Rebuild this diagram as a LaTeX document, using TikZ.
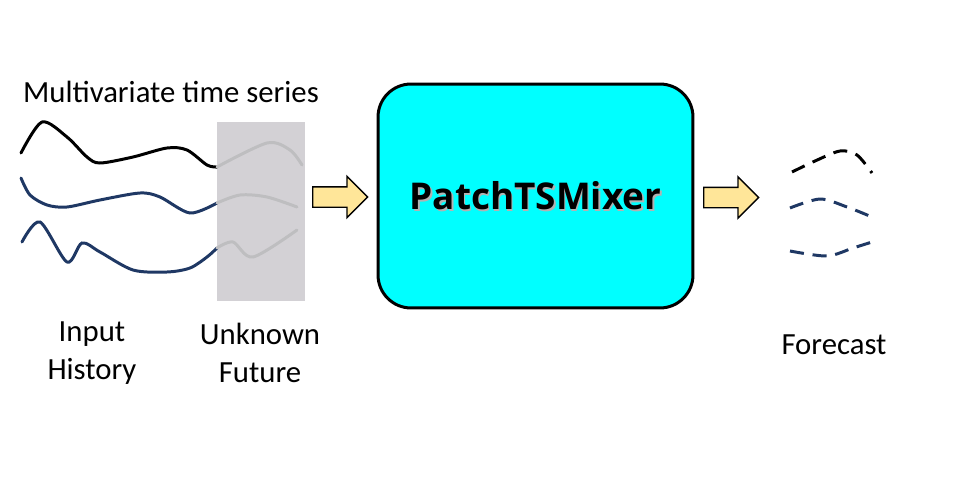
\documentclass[tikz,border=0pt]{standalone}
\usepackage{fontspec}
\setmainfont{Carlito}
\newfontfamily\mixerfont{Open Sans}
\usetikzlibrary{shapes.arrows}
\definecolor{seriesnavy}{RGB}{31,56,100}
\definecolor{futuregray}{RGB}{211,209,213}
\definecolor{ghostgray}{RGB}{190,190,192}
\definecolor{arrowyellow}{RGB}{255,230,153}
\definecolor{mixercyan}{RGB}{0,255,255}

\begin{document}
\begin{tikzpicture}[x=0.02cm, y=-0.02cm,
  series/.style={line width=1.7pt, line cap=round},
  ghost/.style={series, ghostgray},
  fcast/.style={line width=1.7pt, dash pattern=on 8pt off 5pt},
  blockarrow/.style={single arrow, draw=black, line width=0.8pt, fill=arrowyellow,
    minimum height=1.1cm, inner xsep=0pt, inner ysep=0.19cm,
    single arrow head extend=0.21cm, anchor=tail},
  mixertext/.style={font=\mixerfont\bfseries\fontsize{21}{25}\selectfont},
  seriestext/.style={font=\fontsize{17.5}{21.5}\selectfont, align=center}]

  \useasboundingbox (0,0) rectangle (960,480);

  % Unknown future window
  \fill[futuregray] (217,122) rectangle (305,301);

  % Input history
  \draw[series, black] plot[smooth] coordinates {(21,153) (42,122) (67,137) (87,157) (100,163) (133,157) (167,148) (187,150) (207,165) (217,167)};
  \draw[series, seriesnavy] plot[smooth] coordinates {(21,178) (30,195) (47,205) (67,207) (100,200) (140,193) (160,197) (190,213) (217,203)};
  \draw[series, seriesnavy] plot[smooth] coordinates {(22,242) (40,222) (67,262) (82,243) (100,252) (133,270) (167,272) (190,268) (207,257) (217,248)};

  % Unknown future
  \draw[ghost] plot[smooth] coordinates {(217,167) (267,143) (290,150) (302,165)};
  \draw[ghost] plot[smooth] coordinates {(217,203) (240,195) (267,197) (297,207)};
  \draw[ghost] plot[smooth] coordinates {(217,248) (233,242) (253,257) (297,230)};

  % Model
  \node[draw=black, line width=1.7pt, fill=mixercyan, rounded corners=0.66cm,
    minimum width=6.3cm, minimum height=4.48cm] (mixer) at (535.5,196) {};
  \node[mixertext, text=black!30] (mixershadow) at ([shift={(1.5,2)}]mixer.center) {PatchTSMixer};
  \node[mixertext] (mixerlabel) at (mixer.center) {PatchTSMixer};

  % Block arrows
  \node[blockarrow] (arrowin) at (312,197) {};
  \node[blockarrow] (arrowout) at (703,197.5) {};

  % Forecast
  \draw[fcast, black] plot[smooth] coordinates {(792,172) (815,161) (840,151) (857,155) (872,173)};
  \draw[fcast, seriesnavy] plot[smooth] coordinates {(790,208) (820,199) (847,207) (872,217)};
  \draw[fcast, seriesnavy] plot[smooth] coordinates {(790,251) (827,256) (853,248) (872,242)};

  % Labels
  \node[seriestext] (title) at (171,92) {Multivariate time series};
  \node[seriestext] (history) at (92,353) {Input\\History};
  \node[seriestext] (future) at (260,353) {Unknown\\Future};
  \node[seriestext] (forecast) at (834,345) {Forecast};
\end{tikzpicture}
\end{document}
